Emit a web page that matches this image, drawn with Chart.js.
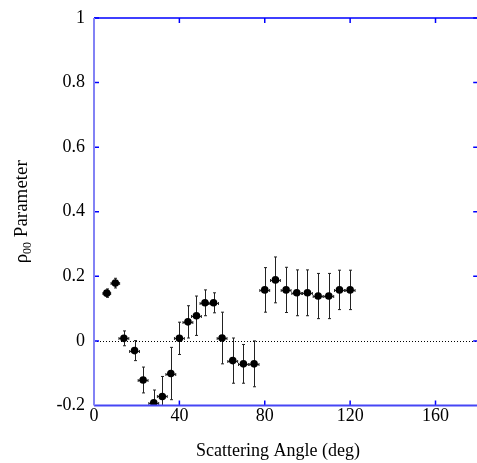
<!DOCTYPE html>
<html>
<head>
<meta charset="utf-8">
<script src="https://cdn.jsdelivr.net/npm/chart.js@4.4.1/dist/chart.umd.min.js"></script>
<style>
  html, body { margin: 0; padding: 0; background: #fff; overflow: hidden; }
  #wrap { width: 482px; height: 463px; }
</style>
</head>
<body>
<div id="wrap"><canvas id="rhoChart" width="482" height="463"></canvas></div>
<script>
  // Values
  const angles   = [6, 10, 14, 19, 23, 28, 32, 36, 40, 44, 48, 52, 56, 60, 65, 70, 75, 80, 85, 90, 95, 100, 105, 110, 115, 120];
  const rho      = [0.148, 0.179, 0.008, -0.030, -0.121, -0.192, -0.172, -0.101, 0.008, 0.059, 0.078, 0.118, 0.118, 0.009,
                    -0.061, -0.071, -0.071, 0.158, 0.189, 0.158, 0.149, 0.149, 0.139, 0.139, 0.158, 0.158];
  const rhoErr   = [0.013, 0.015, 0.023, 0.031, 0.040, 0.040, 0.062, 0.081, 0.050, 0.050, 0.061, 0.040, 0.031, 0.080,
                    0.070, 0.060, 0.071, 0.069, 0.071, 0.070, 0.071, 0.071, 0.070, 0.070, 0.061, 0.061];
  const angleErr = [1.8, 2, 2.3, 2.3, 2.3, 2.3, 2.3, 2.3, 2.3, 2.3, 2.3, 2.3, 2.3, 2.3, 2.3, 2.3, 2.3, 2.3, 2.3, 2.3, 2.3, 2.3, 2.3, 2.3, 2.3, 2.3];

  const xTicks = [0, 40, 80, 120, 160];
  const yTicks = [-0.2, 0, 0.2, 0.4, 0.6, 0.8, 1];
  const yTickLabels = ['-0.2', '0', '0.2', '0.4', '0.6', '0.8', '1'];

  const FONT = 'Liberation Serif, Times New Roman, serif';

  // error bars, clipped to the plot area like the points
  const errorBars = {
    id: 'errorBars',
    beforeDatasetsDraw(chart) {
      const { ctx, chartArea: a, scales: { x, y } } = chart;
      ctx.save();
      ctx.beginPath();
      ctx.rect(a.left, a.top, a.right - a.left, a.bottom - a.top);
      ctx.clip();
      ctx.strokeStyle = '#222';
      ctx.lineWidth = 1;
      const cap = 1.5;
      angles.forEach((ang, i) => {
        const px = Math.round(x.getPixelForValue(ang)) + 0.5;
        const py = Math.round(y.getPixelForValue(rho[i])) + 0.5;
        const yTop = y.getPixelForValue(rho[i] + rhoErr[i]);
        const yBot = y.getPixelForValue(rho[i] - rhoErr[i]);
        const xL = x.getPixelForValue(ang - angleErr[i]);
        const xR = x.getPixelForValue(ang + angleErr[i]);
        ctx.beginPath();
        ctx.moveTo(px, yTop); ctx.lineTo(px, yBot);
        ctx.moveTo(px - cap, yTop); ctx.lineTo(px + cap, yTop);
        ctx.moveTo(px - cap, yBot); ctx.lineTo(px + cap, yBot);
        ctx.moveTo(xL, py); ctx.lineTo(xR, py);
        ctx.moveTo(xL, py - cap); ctx.lineTo(xL, py + cap);
        ctx.moveTo(xR, py - cap); ctx.lineTo(xR, py + cap);
        ctx.stroke();
      });
      ctx.restore();
    }
  };

  // frame, inward ticks, zero line and axis titles
  const frame = {
    id: 'frame',
    beforeDatasetsDraw(chart) {
      const { ctx, chartArea: a, scales: { y } } = chart;
      const y0 = Math.round(y.getPixelForValue(0)) + 0.5;
      ctx.save();
      ctx.strokeStyle = '#000';
      ctx.lineWidth = 1;
      ctx.setLineDash([1, 2]);
      ctx.beginPath();
      ctx.moveTo(a.left, y0);
      ctx.lineTo(a.right, y0);
      ctx.stroke();
      ctx.restore();
    },
    afterDraw(chart) {
      const { ctx, chartArea: a, scales: { x, y } } = chart;
      const tl = 5;
      ctx.save();
      ctx.strokeStyle = '#0000ff';
      ctx.lineWidth = 1.5;
      ctx.beginPath();
      xTicks.slice(1).forEach(v => {
        const px = x.getPixelForValue(v);
        ctx.moveTo(px, a.bottom); ctx.lineTo(px, a.bottom - tl);
        ctx.moveTo(px, a.top); ctx.lineTo(px, a.top + tl);
      });
      yTicks.slice(1).forEach(v => {
        const py = y.getPixelForValue(v);
        ctx.moveTo(a.left, py); ctx.lineTo(a.left + tl, py);
        ctx.moveTo(a.right, py); ctx.lineTo(a.right - tl, py);
      });
      ctx.stroke();

      // top and right edges
      ctx.beginPath();
      ctx.moveTo(a.left, a.top); ctx.lineTo(a.right, a.top); ctx.lineTo(a.right, a.bottom);
      ctx.stroke();
      // bottom
      ctx.strokeStyle = '#4646f5';
      ctx.lineWidth = 2;
      ctx.beginPath();
      ctx.moveTo(a.left, a.bottom); ctx.lineTo(a.right, a.bottom);
      ctx.stroke();
      // left
      ctx.strokeStyle = '#8282f5';
      ctx.lineWidth = 2;
      ctx.beginPath();
      ctx.moveTo(a.left, a.top); ctx.lineTo(a.left, a.bottom);
      ctx.stroke();

      // x title
      ctx.fillStyle = '#000';
      ctx.font = '18px ' + FONT;
      ctx.textAlign = 'center';
      ctx.textBaseline = 'alphabetic';
      ctx.fillText('Scattering Angle (deg)', 278, 456);

      // y title with subscript
      ctx.translate(27, (a.top + a.bottom) / 2);
      ctx.rotate(-Math.PI / 2);
      ctx.font = '19px ' + FONT;
      const w1 = ctx.measureText('ρ').width;
      const w3 = ctx.measureText(' Parameter').width;
      ctx.font = '12px ' + FONT;
      const w2 = ctx.measureText('00').width;
      let cx = -(w1 + w2 + w3) / 2;
      ctx.textAlign = 'left';
      ctx.font = '19px ' + FONT;
      ctx.fillText('ρ', cx, 0);
      cx += w1;
      ctx.font = '12px ' + FONT;
      ctx.fillText('00', cx, 4);
      cx += w2;
      ctx.font = '19px ' + FONT;
      ctx.fillText(' Parameter', cx, 0);
      ctx.restore();
    }
  };

  new Chart(document.getElementById('rhoChart').getContext('2d'), {
    type: 'scatter',
    data: {
      datasets: [{
        data: angles.map((a, i) => ({ x: a, y: rho[i] })),
        backgroundColor: '#000',
        borderWidth: 0,
        pointRadius: 3.8,
        pointHoverRadius: 3.8
      }]
    },
    options: {
      responsive: false,
      animation: false,
      layout: { padding: { top: 18, right: 0, left: 0, bottom: 0 } },
      plugins: { legend: { display: false }, tooltip: { enabled: false } },
      scales: {
        x: {
          type: 'linear',
          min: 0,
          max: 180,
          afterBuildTicks: s => { s.ticks = xTicks.map(v => ({ value: v })); },
          afterFit: s => { s.height = 57.5; s.paddingLeft = 0; s.paddingRight = 0; },
          grid: { display: false, drawTicks: false },
          border: { display: false },
          ticks: { color: '#000', font: { family: FONT, size: 18 }, padding: 0, maxRotation: 0, callback: v => String(v) }
        },
        y: {
          type: 'linear',
          min: -0.2,
          max: 1,
          afterBuildTicks: s => { s.ticks = yTicks.map(v => ({ value: v })); },
          afterFit: s => { s.width = 94; s.paddingTop = 0; s.paddingBottom = 0; },
          grid: { display: false, drawTicks: false },
          border: { display: false },
          ticks: {
            color: '#000',
            font: { family: FONT, size: 18 },
            padding: 9,
            callback: (v, i) => yTickLabels[i]
          }
        }
      }
    },
    plugins: [errorBars, frame]
  });
</script>
</body>
</html>
